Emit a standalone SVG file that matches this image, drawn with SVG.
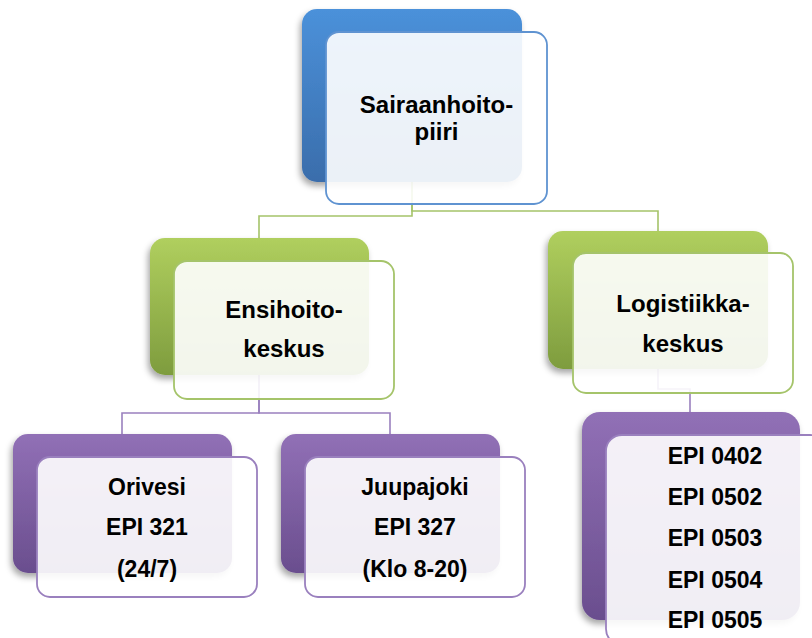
<svg xmlns="http://www.w3.org/2000/svg" width="812" height="638" viewBox="0 0 812 638">
<defs>
<linearGradient id="gBlue" x1="0" y1="0" x2="0" y2="1"><stop offset="0" stop-color="#4b91da"/><stop offset="1" stop-color="#3a6dab"/></linearGradient>
<linearGradient id="gGreen" x1="0" y1="0" x2="0" y2="1"><stop offset="0" stop-color="#b0cf5e"/><stop offset="1" stop-color="#7e9c3e"/></linearGradient>
<linearGradient id="gPurple" x1="0" y1="0" x2="0" y2="1"><stop offset="0" stop-color="#9170b6"/><stop offset="1" stop-color="#6a4e8e"/></linearGradient>
<filter id="sh" x="-20%" y="-20%" width="140%" height="140%"><feDropShadow dx="-2" dy="4" stdDeviation="3" flood-color="#000" flood-opacity="0.35"/></filter>
<style>
.front{fill:#ffffff;fill-opacity:0.9;stroke-width:1.8}
.fb{stroke:#5f93d1}.fg{stroke:#a5c46a}.fp{stroke:#9a80be}
.t{font-family:"Liberation Sans",Arial,sans-serif;font-weight:bold;fill:#000;text-anchor:middle}
.t24{font-size:24px}.t23{font-size:23px}
.cg{fill:none;stroke:#a5c46a;stroke-width:1.6}
.cp{fill:none;stroke:#9a80be;stroke-width:1.6}
</style>
</defs>
<g id="connectors">
<path class="cg" d="M412 182 V216 H259 V238"/>
<path class="cg" d="M412 182 V211 H658 V231"/>
<path class="cp" d="M259 375 V413 H122 V434"/>
<path class="cp" d="M259 375 V413 H390 V434"/>
<path class="cp" d="M658 369 V389 H690 V412"/>
</g>
<g id="node-sairaanhoitopiiri">
<rect x="302" y="9" width="220" height="173" rx="15" fill="url(#gBlue)" filter="url(#sh)"/>
<rect class="front fb" x="326" y="32" width="221" height="172" rx="13"/>
<text class="t t24" x="436.5" y="113">Sairaanhoito-</text>
<text class="t t24" x="436.5" y="140">piiri</text>
</g>
<g id="node-ensihoitokeskus">
<rect x="150" y="238" width="219" height="137" rx="15" fill="url(#gGreen)" filter="url(#sh)"/>
<rect class="front fg" x="174" y="261" width="220" height="138" rx="13"/>
<text class="t t24" x="284" y="318">Ensihoito-</text>
<text class="t t24" x="284" y="357">keskus</text>
</g>
<g id="node-logistiikkakeskus">
<rect x="548" y="231" width="220" height="138" rx="15" fill="url(#gGreen)" filter="url(#sh)"/>
<rect class="front fg" x="573" y="253" width="220" height="140" rx="13"/>
<text class="t t24" x="683" y="312">Logistiikka-</text>
<text class="t t24" x="683" y="352">keskus</text>
</g>
<g id="node-orivesi">
<rect x="13" y="434" width="219" height="139" rx="15" fill="url(#gPurple)" filter="url(#sh)"/>
<rect class="front fp" x="37" y="457" width="220" height="140" rx="13"/>
<text class="t t23" x="147" y="495">Orivesi</text>
<text class="t t23" x="147" y="535">EPI 321</text>
<text class="t t23" x="147" y="577">(24/7)</text>
</g>
<g id="node-juupajoki">
<rect x="281" y="434" width="219" height="139" rx="15" fill="url(#gPurple)" filter="url(#sh)"/>
<rect class="front fp" x="305" y="457" width="220" height="140" rx="13"/>
<text class="t t23" x="415" y="495">Juupajoki</text>
<text class="t t23" x="415" y="535">EPI 327</text>
<text class="t t23" x="415" y="577">(Klo 8-20)</text>
</g>
<g id="node-epi">
<rect x="582" y="412" width="218" height="208" rx="18" fill="url(#gPurple)" filter="url(#sh)"/>
<rect class="front fp" x="606" y="435" width="220" height="210" rx="16"/>
<text class="t t23" x="715" y="464">EPI 0402</text>
<text class="t t23" x="715" y="505">EPI 0502</text>
<text class="t t23" x="715" y="546">EPI 0503</text>
<text class="t t23" x="715" y="588">EPI 0504</text>
<text class="t t23" x="715" y="628">EPI 0505</text>
</g>
</svg>
